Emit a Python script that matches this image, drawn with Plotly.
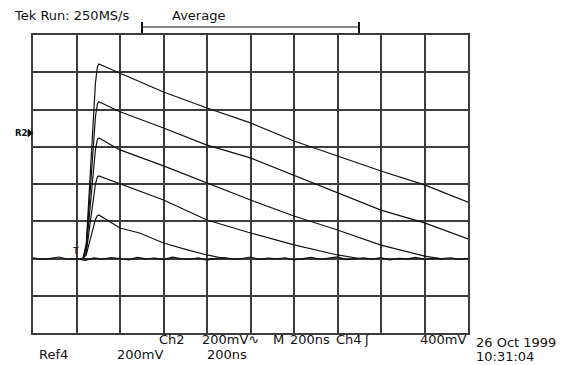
import numpy as np
import plotly.graph_objects as go

# ---- data (time in ns, voltage in mV on Ch2 scale) ----
t1 = [230, 245, 287, 296, 303, 400, 600, 800, 1000, 1200, 1400, 1600, 1800, 2000]
v1 = [-400, -320, 540, 630, 644, 596, 494, 408, 328, 231, 150, 70, -5, -97]

t2 = [230, 245, 287, 296, 303, 400, 600, 800, 1000, 1200, 1400, 1600, 1800, 2000]
v2 = [-400, -335, 360, 430, 442, 388, 301, 209, 140, 48, -48, -140, -209, -295]

t3 = [230, 245, 287, 296, 303, 400, 600, 800, 1000, 1200, 1400, 1600, 1800, 1870]
v3 = [-400, -350, 185, 240, 247, 183, 97, 5, -86, -172, -247, -328, -387, -400]

t4 = [230, 245, 287, 296, 303, 400, 600, 800, 1000, 1200, 1400, 1500]
v4 = [-400, -365, 0, 38, 43, 0, -86, -193, -263, -327, -381, -400]

t5 = [230, 245, 287, 296, 303, 400, 490, 600, 710, 800, 880]
v5 = [-400, -380, -190, -170, -166, -236, -263, -317, -354, -381, -400]

noise = [-396, -405, -399, -392, -404, -401, -410, -397, -403, -395, -400,
         -407, -394, -402, -398, -406, -393, -401, -404, -397, -409, -399,
         -395, -403, -400, -392, -405, -398, -402, -396, -407, -401, -394,
         -404, -399, -391, -406, -400, -397, -403, -395, -408, -399, -402,
         -394, -405, -398, -401, -396, -404, -399]
noise_t = list(np.linspace(0, 2000, len(noise)))

# page offset of the figure (default body margin)
OFF = 8
W, H = 568 - OFF, 365 - OFF
L, R, T, B = 33, 468, 35, 333  # plot area in page pixels


def px(x):
    return (x - L) / (R - L)


def py(y):
    return (B - y) / (B - T)


fig = go.Figure()
for tt, vv in [(noise_t, noise), (t5, v5), (t4, v4), (t3, v3), (t2, v2), (t1, v1)]:
    fig.add_trace(go.Scatter(x=tt, y=vv, mode="lines",
                             line=dict(color="#111111", width=1.2),
                             showlegend=False, hoverinfo="skip"))

grid = "#3c3c3c"
fig.update_xaxes(range=[0, 2000], dtick=200, tick0=0, showgrid=True,
                 gridcolor=grid, gridwidth=1.6, showticklabels=False,
                 zeroline=False, showline=True, mirror=True,
                 linecolor=grid, linewidth=1.6, ticks="")
fig.update_yaxes(range=[-800, 800], dtick=200, tick0=0, showgrid=True,
                 gridcolor=grid, gridwidth=1.6, showticklabels=False,
                 zeroline=False, showline=True, mirror=True,
                 linecolor=grid, linewidth=1.6, ticks="")

FONT = "DejaVu Sans"
FS = 13
texts = [
    ("Tek Run: 250MS/s", 12, 15),
    ("Average", 170, 15),
    ("Ch2", 157, 339),
    ("200mV∿", 200, 339),
    ("M", 271, 339),
    ("200ns", 288, 339),
    ("Ch4", 334, 339),
    ("ʃ", 362, 339),
    ("400mV", 418, 339),
    ("26 Oct 1999", 474, 342),
    ("10:31:04", 474, 356),
    ("Ref4", 37, 354),
    ("200mV", 115, 354),
    ("200ns", 205, 354),
]
ann = []
for s, x, y in texts:
    ann.append(dict(text=s, x=px(x), y=py(y), xref="paper", yref="paper",
                    xanchor="left", yanchor="middle", showarrow=False,
                    font=dict(family=FONT, size=FS, color="#111111")))
# reference marker and trigger marker
ann.append(dict(text="<b>R2</b>", x=px(13), y=py(133), xref="paper", yref="paper",
                xanchor="left", yanchor="middle", showarrow=False,
                font=dict(family=FONT, size=8.5, color="#111111")))
ann.append(dict(text="T", x=px(75), y=py(251), xref="paper", yref="paper",
                xanchor="center", yanchor="middle", showarrow=False,
                font=dict(family=FONT, size=9, color="#111111")))

shapes = [
    # record view bracket
    dict(type="line", xref="paper", yref="paper", x0=px(142), x1=px(359),
         y0=py(27), y1=py(27), line=dict(color="#111111", width=1.2)),
    dict(type="line", xref="paper", yref="paper", x0=px(142), x1=px(142),
         y0=py(22), y1=py(33), line=dict(color="#111111", width=2)),
    dict(type="line", xref="paper", yref="paper", x0=px(359), x1=px(359),
         y0=py(22), y1=py(33), line=dict(color="#111111", width=2)),
    # reference arrow
    dict(type="path", xref="paper", yref="paper",
         path=f"M {px(28)} {py(129.5)} L {px(33)} {py(133)} L {px(28)} {py(136.5)} Z",
         fillcolor="#111111", line=dict(color="#111111", width=1)),
]

fig.update_layout(width=W, height=H,
                  margin=dict(l=L - OFF, r=W - (R - OFF), t=T - OFF, b=H - (B - OFF)),
                  paper_bgcolor="white", plot_bgcolor="white",
                  annotations=ann, shapes=shapes)

fig.write_html("out.html")
